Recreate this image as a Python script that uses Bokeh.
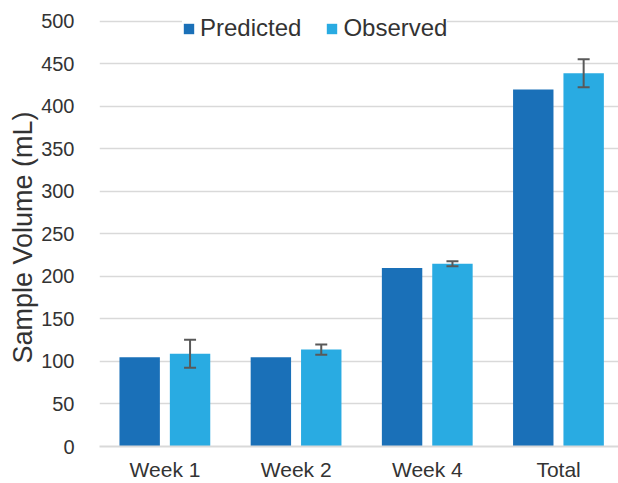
from bokeh.plotting import figure
from bokeh.models import ColumnDataSource, Range1d, FixedTicker, Whisker, TeeHead, Title
from bokeh.transform import dodge
from bokeh.embed import file_html
from bokeh.resources import INLINE

categories = ["Week 1", "Week 2", "Week 4", "Total"]
predicted = [105, 105, 210, 420]
observed = [109, 114, 215, 439]
observed_err = [16.5, 6, 3, 16.5]
y_ticks = [0, 50, 100, 150, 200, 250, 300, 350, 400, 450, 500]
y_title = "Sample Volume (mL)"

xs = list(range(len(categories)))
source = ColumnDataSource(dict(
    x=xs,
    predicted=predicted,
    observed=observed,
    upper=[o + e for o, e in zip(observed, observed_err)],
    lower=[o - e for o, e in zip(observed, observed_err)],
))

FONT = "Liberation Sans"
TXT = "#333333"

p = figure(width=618, height=483, output_backend="svg", toolbar_location=None,
           x_range=Range1d(-0.4992, 3.4566), y_range=Range1d(0, 524.65),
           min_border_left=99, min_border_right=0, min_border_top=0, min_border_bottom=0)
p.outline_line_color = None
p.background_fill_color = "white"

p.vbar(x=dodge("x", -0.193), top="predicted", width=0.308, source=source,
       fill_color="#1A70B8", line_color=None, legend_label="Predicted")
p.vbar(x=dodge("x", 0.191), top="observed", width=0.308, source=source,
       fill_color="#29ABE2", line_color=None, legend_label="Observed")

w = Whisker(base=dodge("x", 0.191), upper="upper", lower="lower", source=source,
            line_color="#595959", line_width=2,
            upper_head=TeeHead(size=12, line_color="#595959", line_width=2),
            lower_head=TeeHead(size=12, line_color="#595959", line_width=2))
w.level = "overlay"
p.add_layout(w)

# axes
p.xaxis.ticker = FixedTicker(ticks=xs)
p.xaxis.major_label_overrides = {i: c for i, c in enumerate(categories)}
p.xaxis.major_tick_line_color = None
p.xaxis.minor_tick_line_color = None
p.xaxis.axis_line_color = "#D9D9D9"
p.xaxis.axis_line_width = 2
p.xaxis.major_label_standoff = 5
p.xaxis.major_label_text_font = FONT
p.xaxis.major_label_text_font_size = "21px"
p.xaxis.major_label_text_color = TXT

p.yaxis.ticker = FixedTicker(ticks=y_ticks)
p.yaxis.axis_line_color = None
p.yaxis.major_tick_line_color = None
p.yaxis.minor_tick_line_color = None
p.yaxis.major_label_standoff = 19
p.yaxis.major_label_text_font = FONT
p.yaxis.major_label_text_font_size = "20px"
p.yaxis.major_label_text_color = TXT

# y-axis title as a side title so it can be placed along the 0-500 span
p.add_layout(Title(text=y_title, align="left", offset=83,
                   text_font=FONT, text_font_size="27px", text_font_style="normal",
                   text_color=TXT, standoff=2), "left")

p.xgrid.grid_line_color = None
p.ygrid.grid_line_color = "#D9D9D9"
p.ygrid.grid_line_width = 1.5

leg = p.legend[0]
leg.orientation = "horizontal"
leg.location = (83, 404)
leg.padding = 18
leg.spacing = 24
leg.glyph_width = 13
leg.glyph_height = 13
leg.label_standoff = 5
leg.label_text_font = FONT
leg.label_text_font_size = "24px"
leg.label_text_color = TXT
leg.border_line_color = None
leg.background_fill_color = "white"
leg.background_fill_alpha = 1.0

open("out.html", "w").write(file_html(p, INLINE))
